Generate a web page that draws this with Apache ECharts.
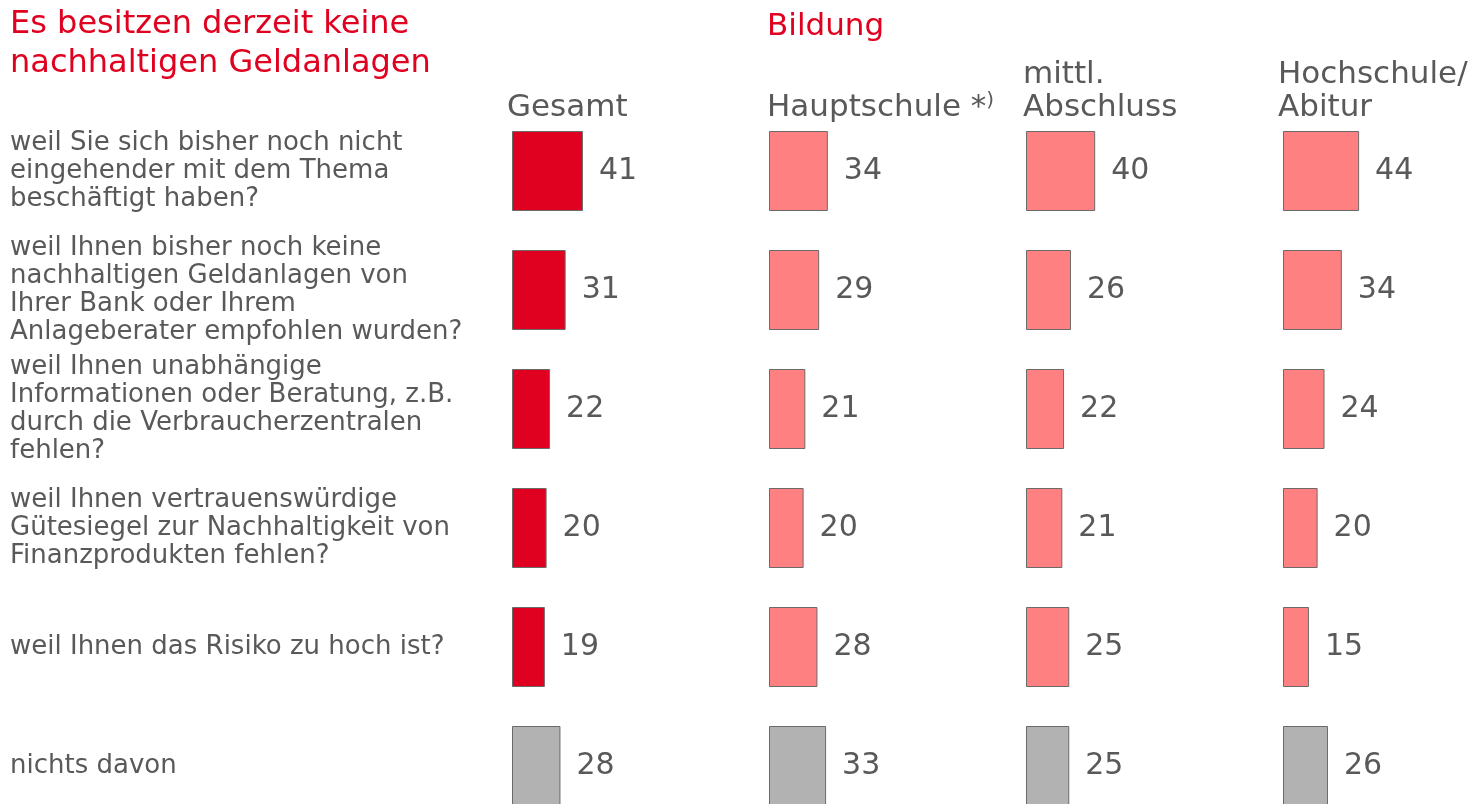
<!DOCTYPE html>
<html>
<head>
<meta charset="utf-8">
<script src="https://cdn.jsdelivr.net/npm/echarts@6/dist/echarts.min.js"></script>
<style>
  html, body { margin: 0; padding: 0; background: #ffffff; }
  #chart { width: 1477px; height: 804px; }
</style>
</head>
<body>
<div id="chart"></div>
<script>
// Survey answers (percent) - reasons for not holding sustainable investments
const categories = [
  'weil Sie sich bisher noch nicht\neingehender mit dem Thema\nbeschäftigt haben?',
  'weil Ihnen bisher noch keine\nnachhaltigen Geldanlagen von\nIhrer Bank oder Ihrem\nAnlageberater empfohlen wurden?',
  'weil Ihnen unabhängige\nInformationen oder Beratung, z.B.\ndurch die Verbraucherzentralen\nfehlen?',
  'weil Ihnen vertrauenswürdige\nGütesiegel zur Nachhaltigkeit von\nFinanzprodukten fehlen?',
  'weil Ihnen das Risiko zu hoch ist?',
  'nichts davon'
];
const columnHeaders = ['Gesamt', 'Hauptschule', 'mittl.\nAbschluss', 'Hochschule/\nAbitur'];
const gesamt      = [41, 31, 22, 20, 19, 28];
const hauptschule = [34, 29, 21, 20, 28, 33];
const mittlerer   = [40, 26, 22, 21, 25, 25];
const hochschule  = [44, 34, 24, 20, 15, 26];

const FONT = '"DejaVu Sans", Verdana, sans-serif';
const TEXT_GRAY = '#595959';
const RED = '#e0001f';
const PINK = '#ff8080';
const GRAY = '#b2b2b2';

const columns = [gesamt, hauptschule, mittlerer, hochschule];
const colLeft = [512, 769, 1026, 1283];
const rowPitch = 119;
const gridTop = 111.5;

const grids = [], xAxes = [], yAxes = [], series = [];
columns.forEach((vals, i) => {
  grids.push({
    left: colLeft[i], top: gridTop, width: 173, height: rowPitch * categories.length,
    containLabel: false, outerBoundsMode: 'none'
  });
  xAxes.push({ type: 'value', gridIndex: i, min: 0, max: 100, show: false });
  yAxes.push({
    type: 'category', gridIndex: i, data: categories, inverse: true,
    axisLine: { show: false }, axisTick: { show: false }, splitLine: { show: false },
    axisLabel: i === 0 ? {
      show: true, align: 'left', margin: 502, color: TEXT_GRAY,
      fontFamily: FONT, fontSize: 26, lineHeight: 28
    } : { show: false }
  });
  const main = i === 0 ? RED : PINK;
  series.push({
    type: 'bar', xAxisIndex: i, yAxisIndex: i, barWidth: 80,
    data: vals.map((v, k) => ({
      value: v,
      itemStyle: { color: k === vals.length - 1 ? GRAY : main }
    })),
    itemStyle: { borderColor: '#6a6a6a', borderWidth: 1 },
    label: {
      show: true, position: 'right', distance: 16,
      color: TEXT_GRAY, fontFamily: FONT, fontSize: 30
    },
    silent: true
  });
});

const headerX = [507, 767, 1023, 1278];
const graphics = [
  { type: 'text', left: 10, top: 5, style: {
      text: 'Es besitzen derzeit keine\nnachhaltigen Geldanlagen',
      fill: RED, font: '32px ' + FONT, lineHeight: 39 } },
  { type: 'text', left: 767, top: 7, style: {
      text: 'Bildung', fill: RED, font: '31px ' + FONT, lineHeight: 39 } }
];
columnHeaders.forEach((h, i) => {
  const lines = h.split('\n').length;
  const style = { text: h, fill: TEXT_GRAY, font: '31px ' + FONT, lineHeight: 33 };
  if (i === 1) {
    style.text = '{a|Hauptschule *}{b|)}';
    style.rich = {
      a: { fill: TEXT_GRAY, font: '31px ' + FONT, lineHeight: 33 },
      b: { fill: TEXT_GRAY, font: '20px ' + FONT, lineHeight: 33, verticalAlign: 'top' }
    };
  }
  graphics.push({ type: 'text', left: headerX[i], top: 124 - 33 * lines, style });
});

const chart = echarts.init(document.getElementById('chart'), null, { renderer: 'canvas' });
chart.setOption({
  animation: false,
  backgroundColor: '#ffffff',
  grid: grids,
  xAxis: xAxes,
  yAxis: yAxes,
  series,
  graphic: graphics
});
</script>
</body>
</html>
